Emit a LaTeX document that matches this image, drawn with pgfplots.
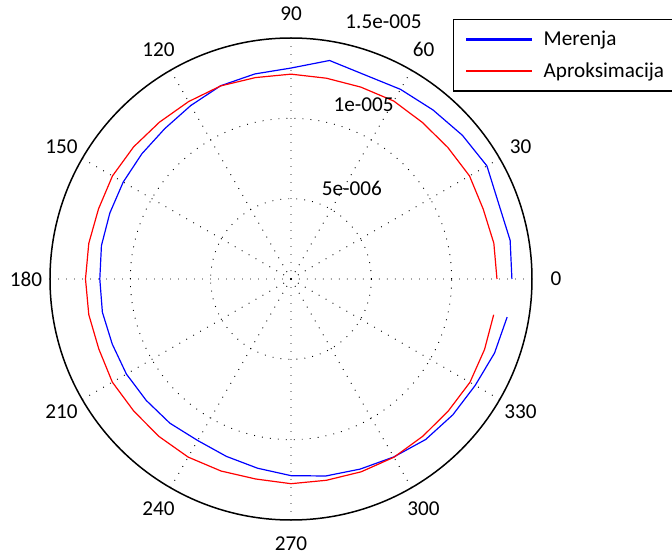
\documentclass[border=0pt]{standalone}
\usepackage{fontspec}
\setmainfont{Carlito}
\usepackage{pgfplots}
\pgfplotsset{compat=1.18}
\usepgfplotslibrary{polar}
\begin{document}
\begin{tikzpicture}[font=\fontsize{21.2}{25}\selectfont]
\begin{polaraxis}[
 scale only axis, width=482pt, height=482pt,
 ymin=0, ymax=1.5e-5, xmin=0, xmax=360,
 xtick={0,30,...,330}, ytick={5e-6,1e-5},
 xticklabels={}, yticklabels={},
 scaled y ticks=false,
 major tick length=0pt,
 grid=major,
 major grid style={black, line width=0.9pt, dash pattern=on 0.9pt off 7.1pt},
 axis line style={black, line width=1.5pt},
 y axis line style={draw=none},
 clip=false,
 legend cell align=left,
 legend image code/.code={\fill[#1] (0pt,-0.7pt) rectangle (65pt,0.7pt);},
 legend style={at={(axis cs:58.07,1.906e-5)}, anchor=north west,
   draw=black, line width=1.1pt, inner xsep=12pt, inner ysep=9.75pt,
   row sep=11.5pt, column sep=10pt,
   font=\fontsize{21.2}{25}\selectfont},
]
\addplot[blue, line width=1.2pt] coordinates {
(0,1.375e-5)(10,1.385e-5)(20,1.375e-5)(30,1.408e-5)(40,1.392e-5)(50,1.374e-5)
(60,1.363e-5)(70,1.351e-5)(80,1.381e-5)(90,1.313e-5)(100,1.296e-5)(110,1.280e-5)
(120,1.247e-5)(130,1.222e-5)(140,1.212e-5)(150,1.206e-5)(160,1.200e-5)(170,1.198e-5)
(180,1.190e-5)(190,1.192e-5)(200,1.184e-5)(210,1.183e-5)(220,1.176e-5)(230,1.172e-5)
(240,1.161e-5)(250,1.175e-5)(260,1.196e-5)(270,1.224e-5)(280,1.245e-5)(290,1.259e-5)
(300,1.279e-5)(310,1.304e-5)(320,1.315e-5)(330,1.324e-5)(340,1.348e-5)(350,1.366e-5)};
\addlegendentry{Merenja}
\addplot[red, line width=1.2pt] coordinates {
(0,1.282e-5)(10,1.282e-5)(20,1.273e-5)(30,1.283e-5)(40,1.274e-5)(50,1.272e-5)
(60,1.279e-5)(70,1.271e-5)(80,1.269e-5)(90,1.275e-5)(100,1.273e-5)(110,1.279e-5)
(120,1.275e-5)(130,1.274e-5)(140,1.279e-5)(150,1.283e-5)(160,1.275e-5)(170,1.278e-5)
(180,1.279e-5)(190,1.278e-5)(200,1.273e-5)(210,1.284e-5)(220,1.278e-5)(230,1.279e-5)
(240,1.280e-5)(250,1.272e-5)(260,1.264e-5)(270,1.274e-5)(280,1.272e-5)(290,1.277e-5)
(300,1.281e-5)(310,1.277e-5)(320,1.278e-5)(330,1.286e-5)(340,1.282e-5)(350,1.281e-5)};
\addlegendentry{Aproksimacija}
\pgfplotsinvokeforeach{0,30,...,330}{\node[inner sep=1pt] at (axis cs:#1,1.65e-5) {#1};}
\node[anchor=base west, inner sep=0pt, xshift=19pt] at (axis cs:82,5.25e-6) {5e-006};
\node[anchor=base west, inner sep=0pt, xshift=19pt] at (axis cs:82,1.05e-5) {1e-005};
\node[anchor=base west, inner sep=0pt, xshift=19pt] at (axis cs:82,1.575e-5) {1.5e-005};
\coordinate (c) at (axis cs:0,0);
\end{polaraxis}
\pgfresetboundingbox
\path ([shift={(-291pt,279pt)}]c) rectangle ([shift={(381pt,-275pt)}]c);
\end{tikzpicture}
\end{document}
